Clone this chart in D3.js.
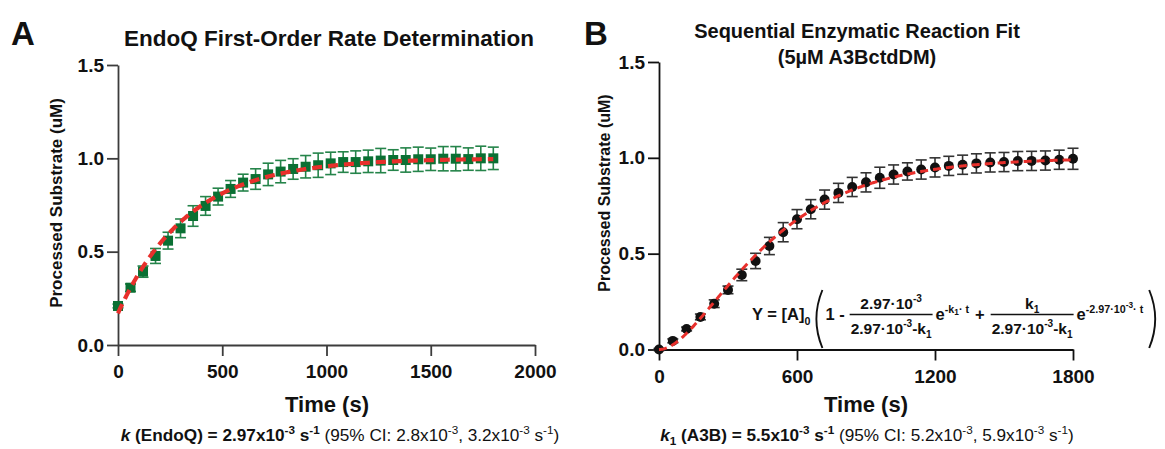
<!DOCTYPE html>
<html><head><meta charset="utf-8">
<script src="https://cdn.jsdelivr.net/npm/d3@7"></script>
<style>
body{margin:0;background:#fff;}
svg{display:block;font-family:"Liberation Sans",Arial,sans-serif;}
</style></head><body>
<svg id="c" width="1165" height="449"></svg>
<script>
// ---------------- DATA ----------------
const timesA  = [0,60,120,180,240,300,360,420,480,540,600,660,720,780,840,900,960,1020,1080,1140,1200,1260,1320,1380,1440,1500,1560,1620,1680,1740,1800];
const valuesA = [0.209,0.307,0.393,0.477,0.559,0.625,0.691,0.745,0.795,0.836,0.870,0.889,0.914,0.929,0.943,0.955,0.963,0.973,0.980,0.980,0.984,0.988,0.991,0.991,0.995,0.995,0.998,0.998,0.996,1.000,1.000];
const errorsA = [0.010,0.020,0.030,0.040,0.045,0.050,0.055,0.050,0.045,0.045,0.045,0.055,0.060,0.060,0.055,0.060,0.065,0.060,0.055,0.060,0.060,0.065,0.055,0.065,0.065,0.060,0.065,0.065,0.060,0.065,0.060];

const timesB  = [0,60,120,180,240,300,360,420,480,540,600,660,720,780,840,900,960,1020,1080,1140,1200,1260,1320,1380,1440,1500,1560,1620,1680,1740,1800];
const valuesB = [0.000,0.045,0.107,0.170,0.239,0.311,0.389,0.462,0.540,0.612,0.680,0.732,0.782,0.817,0.848,0.872,0.896,0.913,0.929,0.939,0.950,0.958,0.964,0.971,0.976,0.978,0.983,0.984,0.986,0.990,0.995];
const errorsB = [0.005,0.010,0.010,0.015,0.020,0.020,0.030,0.040,0.045,0.050,0.050,0.050,0.050,0.050,0.050,0.050,0.055,0.050,0.045,0.050,0.050,0.050,0.050,0.050,0.050,0.050,0.050,0.050,0.050,0.050,0.055];

const ticksXA = [0,500,1000,1500,2000];
const ticksXB = [0,600,1200,1800];
const ticksY  = [0,0.5,1.0,1.5];

// fit parameters (from the chart text)
const kEndoQ = 2.97e-3, fitA_Y0 = 0.17, fitA_Ymax = 1.0;
const k1A3B = 5.5e-3, fitB_A0 = 1.0;

// ---------------- DRAW ----------------
const svg = d3.select("#c");
const FONT = '"Liberation Sans",Arial,sans-serif';

function panel(o){
  const g = svg.append("g");
  const x = d3.scaleLinear().domain(o.xDomain).range([o.x0,o.x1]);
  const y = d3.scaleLinear().domain([0,1.5]).range([o.y0,o.y1]);
  const ax = g.append("g").attr("transform",`translate(0,${o.y0})`)
    .call(d3.axisBottom(x).tickValues(o.xTicks).tickSize(11).tickSizeOuter(0).tickPadding(4).tickFormat(d3.format("d")));
  const ay = g.append("g").attr("transform",`translate(${o.x0},0)`)
    .call(d3.axisLeft(y).tickValues(ticksY).tickSize(11).tickSizeOuter(0).tickPadding(3).tickFormat(d3.format(".1f")));
  [ax,ay].forEach(a=>{
    a.select(".domain").attr("stroke",o.axisColor).attr("stroke-width",1.8);
    a.selectAll(".tick line").attr("stroke",o.axisColor).attr("stroke-width",1.8);
    a.selectAll(".tick text").attr("font-family",FONT).attr("font-weight","bold").attr("font-size",19).attr("fill","#111");
  });
  ax.selectAll(".tick text").attr("dy","0.95em");
  // error bars
  const eg = g.append("g").attr("stroke",o.errColor).attr("stroke-width",1.6).attr("fill","none");
  o.t.forEach((t,i)=>{
    const cx = x(t), v=o.v[i], e=o.e[i];
    const yt=y(v+e), yb=y(v-e);
    eg.append("line").attr("x1",cx).attr("x2",cx).attr("y1",yt).attr("y2",yb);
    eg.append("line").attr("x1",cx-5.5).attr("x2",cx+5.5).attr("y1",yt).attr("y2",yt);
    eg.append("line").attr("x1",cx-5.5).attr("x2",cx+5.5).attr("y1",yb).attr("y2",yb);
  });
  // markers
  const mg = g.append("g").attr("fill",o.markColor);
  if(o.marker==="square"){
    mg.selectAll("rect").data(o.t).join("rect")
      .attr("x",(t)=>x(t)-5).attr("y",(t,i)=>y(o.v[i])-5).attr("width",10).attr("height",10);
  } else {
    mg.selectAll("circle").data(o.t).join("circle")
      .attr("cx",(t)=>x(t)).attr("cy",(t,i)=>y(o.v[i])).attr("r",5);
  }
  // fit
  const ts = d3.range(0,1800.1,5);
  g.append("path").datum(ts)
    .attr("d",d3.line().x(t=>x(t)).y(t=>y(o.fit(t))))
    .attr("fill","none").attr("stroke","#e8302c").attr("stroke-width",o.fitWidth)
    .attr("stroke-dasharray",o.dash);
  // axis titles
  g.append("text").attr("transform",`translate(${o.ylabX},${o.ylabY}) rotate(-90)`)
    .attr("text-anchor","middle").attr("font-weight","bold").attr("font-size",o.ylabSize).attr("fill","#111")
    .text("Processed Substrate (uM)");
  g.append("text").attr("x",o.xlabX).attr("y",412).attr("text-anchor","middle")
    .attr("font-weight","bold").attr("font-size",22).attr("fill","#111").text("Time (s)");
  return {x,y,g};
}

const A = panel({
  xDomain:[0,2000], x0:118, x1:535, y0:345, y1:65, xTicks:ticksXA,
  t:timesA, v:valuesA, e:errorsA, marker:"square",
  markColor:"#0a7033", errColor:"#25844a", axisColor:"#3c3c3c",
  fit:t=>fitA_Ymax-(fitA_Ymax-fitA_Y0)*Math.exp(-kEndoQ*t), fitWidth:4.2, dash:"10,6",
  ylabX:62, ylabY:203, ylabSize:17, xlabX:327
});
const B = panel({
  xDomain:[0,1800], x0:659, x1:1073, y0:349.5, y1:62, xTicks:ticksXB,
  t:timesB, v:valuesB, e:errorsB, marker:"circle",
  markColor:"#111", errColor:"#333", axisColor:"#111",
  fit:t=>{const k2=kEndoQ,k1=k1A3B;return fitB_A0*(1-k2/(k2-k1)*Math.exp(-k1*t)+k1/(k2-k1)*Math.exp(-k2*t));},
  fitWidth:3, dash:"8,5",
  ylabX:610, ylabY:193, ylabSize:16, xlabX:866
});

// Panel letters and titles
svg.append("text").attr("x",11).attr("y",45).attr("font-weight","bold").attr("font-size",33).attr("fill","#111").text("A");
svg.append("text").attr("x",584).attr("y",45).attr("font-weight","bold").attr("font-size",33).attr("fill","#111").text("B");
svg.append("text").attr("x",329).attr("y",46).attr("text-anchor","middle").attr("font-weight","bold").attr("font-size",22.5).attr("fill","#111")
  .text("EndoQ First-Order Rate Determination");
svg.append("text").attr("x",857).attr("y",38).attr("text-anchor","middle").attr("font-weight","bold").attr("font-size",20).attr("fill","#111")
  .text("Sequential Enzymatic Reaction Fit");
svg.append("text").attr("x",857).attr("y",64).attr("text-anchor","middle").attr("font-weight","bold").attr("font-size",20).attr("fill","#111")
  .text("(5µM A3BctdDM)");

// Subtitles (rate constants)
function richText(cx, cy, size, parts){
  const t = svg.append("text").attr("x",cx).attr("y",cy).attr("text-anchor","middle").attr("font-size",size).attr("fill","#111");
  let shift = 0;
  parts.forEach(p=>{
    const s = t.append("tspan").text(p.s);
    if(p.b) s.attr("font-weight","bold");
    if(p.i) s.attr("font-style","italic");
    const target = p.sup? -size*0.4 : p.sub? size*0.25 : 0;
    s.attr("dy", target-shift); shift = target;
    if(p.sup||p.sub) s.attr("font-size", size*0.68);
  });
  return t;
}
richText(340, 441, 17.2, [
  {s:"k",b:1,i:1},{s:" (EndoQ) = 2.97x10",b:1},{s:"-3",b:1,sup:1},{s:" s",b:1},{s:"-1",b:1,sup:1},
  {s:" (95% CI: 2.8x10"},{s:"-3",sup:1},{s:", 3.2x10"},{s:"-3",sup:1},{s:" s"},{s:"-1",sup:1},{s:")"}
]);
richText(867, 441, 17.2, [
  {s:"k",b:1,i:1},{s:"1",b:1,sub:1},{s:" (A3B) = 5.5x10",b:1},{s:"-3",b:1,sup:1},{s:" s",b:1},{s:"-1",b:1,sup:1},
  {s:" (95% CI: 5.2x10"},{s:"-3",sup:1},{s:", 5.9x10"},{s:"-3",sup:1},{s:" s"},{s:"-1",sup:1},{s:")"}
]);

// Equation in panel B
const eq = svg.append("g").attr("font-weight","bold").attr("fill","#111");
const base = 320, barY = 314.5;
function rich(parent, x, y, size, parts){
  const t = parent.append("text").attr("x",x).attr("y",y).attr("font-size",size);
  let shift=0;
  parts.forEach(p=>{
    const s=t.append("tspan").text(p.s);
    const target = p.sup? -size*0.42 : p.sub? size*0.28 : p.supsup? -size*0.7 : p.supsub? -size*0.28 : 0;
    s.attr("dy",target-shift); shift=target;
    if(p.sup||p.sub) s.attr("font-size",size*0.65);
    if(p.supsup||p.supsub) s.attr("font-size",size*0.5);
  });
  return t;
}
function width(t){return t.node().getComputedTextLength();}
let cx = 752;
let t1 = rich(eq,cx,base,16.5,[{s:"Y  = [A]"},{s:"0",sub:1}]); cx += width(t1)+3;
// left paren
eq.append("path").attr("d",`M${cx+9},290 Q${cx-3},319 ${cx+9},348`).attr("fill","none").attr("stroke","#111").attr("stroke-width",1.9);
cx += 12;
let t2 = rich(eq,cx,base,16.5,[{s:"1 -"}]); cx += width(t2)+5;
function fraction(numParts, denParts){
  const n = rich(eq,0,barY-6,15.5,numParts), d = rich(eq,0,barY+19,15.5,denParts);
  const wn=width(n), wd=width(d), bw=Math.max(wn,wd)+2;
  n.attr("x",cx+(bw-wn)/2); d.attr("x",cx+(bw-wd)/2);
  eq.append("line").attr("x1",cx).attr("x2",cx+bw).attr("y1",barY).attr("y2",barY).attr("stroke","#111").attr("stroke-width",1.3);
  cx += bw+3;
}
fraction([{s:"2.97·10"},{s:"-3",sup:1}],[{s:"2.97·10"},{s:"-3",sup:1},{s:"-k"},{s:"1",sub:1}]);
let t3 = rich(eq,cx,base,16.5,[{s:"e"},{s:"-k",sup:1},{s:"1",supsub:1},{s:"· t",sup:1}]); cx += width(t3)+6;
let t4 = rich(eq,cx,base,16.5,[{s:"+"}]); cx += width(t4)+6;
fraction([{s:"k"},{s:"1",sub:1}],[{s:"2.97·10"},{s:"-3",sup:1},{s:"-k"},{s:"1",sub:1}]);
let t5 = rich(eq,cx,base,16.5,[{s:"e"},{s:"-2.97·10",sup:1},{s:"-3",supsup:1},{s:"· t",sup:1}]); cx += width(t5)+6;
eq.append("path").attr("d",`M${cx},290 Q${cx+12},319 ${cx},348`).attr("fill","none").attr("stroke","#111").attr("stroke-width",1.9);
</script>
</body></html>
